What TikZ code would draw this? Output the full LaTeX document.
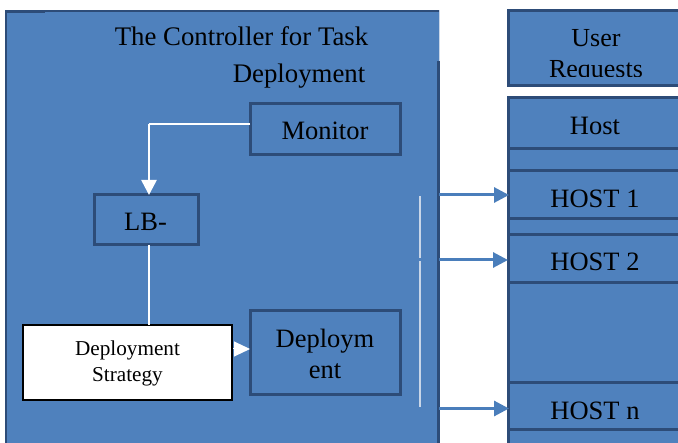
\documentclass[tikz,border=0pt]{standalone}
\usepackage{fontspec}
\setmainfont{Liberation Serif}
\usetikzlibrary{arrows.meta,calc}
\definecolor{boxfill}{HTML}{4F81BD}
\definecolor{boxline}{HTML}{2D4C78}
\definecolor{arrowblue}{HTML}{4A7EBB}
\definecolor{softline}{HTML}{C9D6E8}
\newcommand{\downby}[2]{\raisebox{-#1pt}[18pt][6pt]{#2}}
\tikzset{
  x=1pt,y=-1pt,
  box/.style={draw=boxline,line width=3pt,fill=boxfill,inner sep=0pt,outer sep=0pt,align=center,font=\fontsize{26.5}{31}\selectfont,anchor=north west},
  plain/.style={inner sep=0pt,outer sep=0pt,align=center,font=\fontsize{26.8}{31}\selectfont,text=black},
  white thin/.style={draw=white,line width=1.1pt},
  host arrow/.style={draw=arrowblue,line width=3pt,-{Triangle[length=15pt,width=15pt]},shorten >=-1pt},
}
\begin{document}
\begin{tikzpicture}
\clip (0,0) rectangle (678,443);
\fill[white] (0,0) rectangle (678,443);
% controller panel
\node[fill=boxfill,draw=softline,line width=0.8pt,inner sep=0pt,outer sep=0pt,anchor=north west,minimum width=434pt,minimum height=460pt] (main) at (5,10) {};
\draw[boxline,line width=2pt] ($(main.north west)+(1,1)$) -- ($(main.north west)+(1,450)$);
\draw[boxline,line width=1.4pt] ($(main.north west)+(0,1)$) -- ($(main.north east)+(0,1)$);
\draw[boxline,line width=2.4pt] ($(main.north west)+(0,1.5)$) -- ($(main.north west)+(40,1.5)$);
\draw[boxline,line width=3pt] ($(main.north east)+(-1,51)$) -- ($(main.north east)+(-1,450)$);
\node[plain] (title1) at (241.5,36.5) {The Controller for Task};
\node[plain] (title2) at (299,76.5) {Deployment};
% inner boxes
\node[box,minimum width=150pt,minimum height=51pt] (monitor) at (250,104) {\downby{4.5}{Monitor}};
\node[box,minimum width=104pt,minimum height=50pt] (lb) at (94,195) {\hspace*{-1pt}\downby{5}{LB-}};
\node[box,minimum width=150pt,minimum height=84pt] (deploy) at (250,311) {\rule{0pt}{20pt}Deploym\\ent};
\node[draw=black,line width=1.8pt,fill=white,inner sep=0pt,outer sep=0pt,anchor=north west,minimum width=209pt,minimum height=75pt,align=center,font=\fontsize{21.2}{26}\selectfont] (strategy) at (23,325) {\rule{0pt}{17pt}Deployment\\Strategy};
% white connectors
\coordinate (bend) at (149,124);
\draw[white thin] ($(monitor.west)+(0,-5.5)$) -- (bend);
\draw[draw=white,line width=2.6pt,-{Triangle[length=15pt,width=15pt]}] (bend) -- (bend |- lb.north);
\draw[white thin] (bend |- lb.south) -- (bend |- strategy.north);
\draw[draw=white,line width=1pt,-{Triangle[length=16pt,width=15pt]}] ($(strategy.east)+(1,-13.5)$) -- ($(deploy.west)+(0,-4)$);
% right column
\node[box,minimum width=174pt,minimum height=75pt,draw=none,fill=boxfill] (user) at (508,11) {};
\begin{scope}
\clip (500,5) rectangle (690,76.5);
\node[plain,font=\fontsize{26}{31}\selectfont] (usertext) at (596,56) {User\\Requests};
\end{scope}
\draw[boxline,line width=3pt] (user.south west) rectangle (user.north east);
\node[box,minimum width=174pt,minimum height=360pt] (hostbg) at (508,98) {};
\node[box,minimum width=174pt,minimum height=51pt] (host) at (508,98) {\downby{5}{Host}};
\node[box,minimum width=174pt,minimum height=48pt] (h1) at (508,171) {\downby{7}{HOST 1}};
\node[box,minimum width=174pt,minimum height=48pt] (h2) at (508,235) {\downby{6}{HOST 2}};
\node[box,minimum width=174pt,minimum height=47pt] (hn) at (508,383) {\downby{7.5}{HOST n}};
% white bus with a small gap
\coordinate (busa) at (420,196);
\coordinate (busb) at (420,258.5);
\coordinate (busc) at (420,261);
\coordinate (busd) at (420,407);
\draw[draw=softline,line width=1.4pt] (busa) -- (busb);
\draw[draw=softline,line width=1.4pt] (busc) -- (busd);
% host arrows
\draw[host arrow] (main.east |- h1.west) -- (h1.west);
\draw[host arrow] ($(main.east |- h2.west)+(0,1)$) -- ($(h2.west)+(-1,1)$);
\draw[host arrow] ($(main.east |- hn.west)+(0,2)$) -- ($(hn.west)+(0,2)$);
\end{tikzpicture}
\end{document}
